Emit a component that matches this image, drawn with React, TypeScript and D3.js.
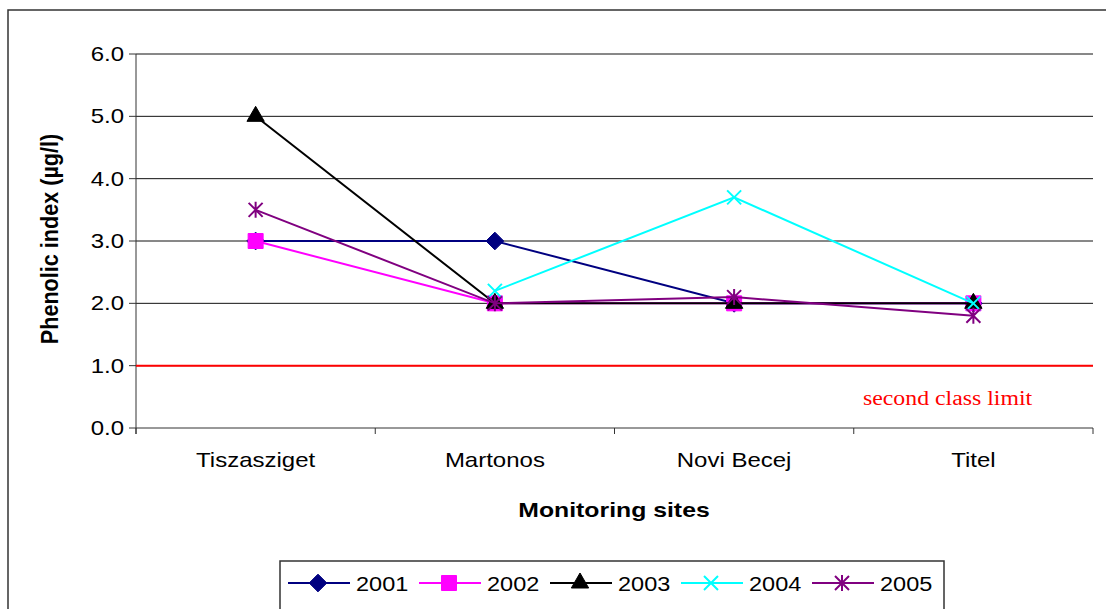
import React from "react";
import * as d3 from "d3";

const sites = ["Tiszasziget", "Martonos", "Novi Becej", "Titel"];
const years = ["2001", "2002", "2003", "2004", "2005"];
const v2001 = [3.0, 3.0, 2.0, 2.0];
const v2002 = [3.0, 2.0, 2.0, 2.0];
const v2003 = [5.0, 2.0, 2.0, 2.0];
const v2004: (number | null)[] = [null, 2.2, 3.7, 2.0];
const v2005 = [3.5, 2.0, 2.1, 1.8];
const yTicks = [0, 1, 2, 3, 4, 5, 6];
const limitValue = 1.0;
const colors = ["#000080", "#FF00FF", "#000000", "#00FFFF", "#800080"];
const markers = ["diamond", "square", "triangle", "x", "star"];

const W = 1106, H = 609;
const SX = 1.2;
const FONT = "'Liberation Sans', Arial, sans-serif";

function Marker({ kind, color, x, y }: { kind: string; color: string; x: number; y: number }) {
  const r = 7;
  if (kind === "x" || kind === "star") {
    const p = `M${-r},${-r}L${r},${r}M${-r},${r}L${r},${-r}` + (kind === "star" ? `M0,${-r - 1}L0,${r + 1}` : "");
    return <path d={p} transform={`translate(${x},${y})`} stroke={color} strokeWidth={2} fill="none" />;
  }
  let d = "";
  if (kind === "diamond") d = d3.symbol(d3.symbolDiamond2, 200)()!;
  if (kind === "square") d = d3.symbol(d3.symbolSquare, 225)()!;
  if (kind === "triangle") d = d3.symbol(d3.symbolTriangle, 130)()!;
  return <path d={d} transform={`translate(${x},${y})`} fill={color} stroke={color} strokeWidth={1} />;
}

function STxt({ x, y, anchor = "start", sx = SX, size = 20, weight = "normal", fill = "#000", family = FONT, children }: any) {
  return (
    <text transform={`translate(${x},${y}) scale(${sx},1)`} textAnchor={anchor} fontSize={size}
      fontWeight={weight} fill={fill} fontFamily={family}>{children}</text>
  );
}

export default function App() {
  const series = [v2001, v2002, v2003, v2004, v2005];
  const x = d3.scaleBand().domain(sites).range([136, 1093]).paddingInner(0).paddingOuter(0);
  const bw = x.bandwidth();
  const cx = (s: string) => (x(s) as number) + bw / 2;
  const y = d3.scaleLinear().domain([0, 6]).range([428, 54]);
  const line = d3.line<[number, number | null]>()
    .defined((d) => d[1] !== null)
    .x((d) => d[0])
    .y((d) => y(d[1] as number));
  const boundaries = [...sites.map((s) => x(s) as number), 1093];

  return (
    <svg width={W} height={H} style={{ position: "absolute", left: 0, top: 0, background: "#fff" }}>
      <rect x={0} y={0} width={W} height={H} fill="#fff" />
      <rect x={8} y={10} width={1120} height={620} fill="none" stroke="#333" strokeWidth={1.5} />
      {/* gridlines */}
      {yTicks.filter((t) => t > 0).map((t) => (
        <line key={t} x1={136} x2={1093} y1={y(t)} y2={y(t)} stroke="#111" strokeWidth={1} />
      ))}
      {/* y axis */}
      <line x1={136} x2={136} y1={y(6)} y2={y(0) + 6} stroke="#333" strokeWidth={1} />
      {yTicks.map((t) => (
        <line key={"t" + t} x1={129} x2={136} y1={y(t)} y2={y(t)} stroke="#333" strokeWidth={1} />
      ))}
      {yTicks.map((t) => (
        <STxt key={"l" + t} x={124} y={y(t) + 7} anchor="end">{t.toFixed(1)}</STxt>
      ))}
      {/* x axis */}
      <line x1={136} x2={1093} y1={y(0)} y2={y(0)} stroke="#333" strokeWidth={1} />
      {boundaries.map((b, i) => (
        <line key={"b" + i} x1={b} x2={b} y1={y(0)} y2={y(0) + 6} stroke="#333" strokeWidth={1} />
      ))}
      {sites.map((s) => (
        <STxt key={s} x={cx(s)} y={467} anchor="middle">{s}</STxt>
      ))}
      {/* limit line */}
      <line x1={136} x2={1093} y1={y(limitValue)} y2={y(limitValue)} stroke="#FF0000" strokeWidth={2} />
      <STxt x={863} y={405} sx={1.19} family="'Liberation Serif', 'Times New Roman', serif" fill="#FF0000">second class limit</STxt>
      {/* series */}
      {series.map((vals, i) => {
        const pts: [number, number | null][] = vals.map((v, j) => [cx(sites[j]), v]);
        return (
          <g key={years[i]}>
            <path d={line(pts) || ""} fill="none" stroke={colors[i]} strokeWidth={2} />
            {pts.filter((p) => p[1] !== null).map((p, j) => (
              <Marker key={j} kind={markers[i]} color={colors[i]} x={p[0]} y={y(p[1] as number)} />
            ))}
          </g>
        );
      })}
      {/* axis titles */}
      <STxt x={614} y={517} anchor="middle" weight="bold" sx={1.24}>Monitoring sites</STxt>
      <text transform={`translate(58,239) rotate(-90) scale(1.08,1.2)`} textAnchor="middle" fontSize={20}
        fontWeight="bold" fontFamily={FONT}>Phenolic index (µg/l)</text>
      {/* legend */}
      <rect x={280} y={561} width={664} height={80} fill="#fff" stroke="#333" strokeWidth={1.5} />
      {years.map((yr, i) => {
        const x0 = 288 + i * 131;
        return (
          <g key={"lg" + yr}>
            <line x1={x0} x2={x0 + 62} y1={583} y2={583} stroke={colors[i]} strokeWidth={2} />
            <Marker kind={markers[i]} color={colors[i]} x={x0 + 30} y={583} />
            <STxt x={x0 + 68} y={591} size={21} sx={1.12}>{yr}</STxt>
          </g>
        );
      })}
    </svg>
  );
}
